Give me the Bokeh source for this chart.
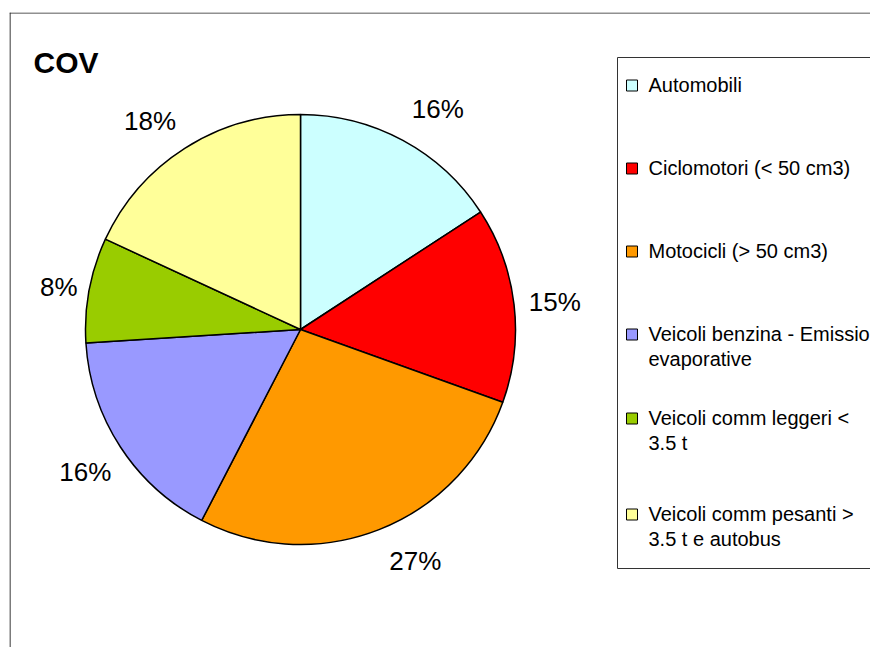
import math
from bokeh.plotting import figure
from bokeh.models import Range1d, Span, Label, ColumnDataSource
from bokeh.embed import file_html
from bokeh.resources import INLINE
from bokeh.core.properties import value

# ---------------- data ----------------
chart_title = "COV"
categories = [
    "Automobili",
    "Ciclomotori (< 50 cm3)",
    "Motocicli (> 50 cm3)",
    "Veicoli benzina - Emissioni evaporative",
    "Veicoli comm leggeri < 3.5 t",
    "Veicoli comm pesanti > 3.5 t e autobus",
]
# legend text as wrapped in the original legend
legend_text = [
    "Automobili",
    "Ciclomotori (< 50 cm3)",
    "Motocicli (> 50 cm3)",
    "Veicoli benzina - Emissioni\nevaporative",
    "Veicoli comm leggeri <\n3.5 t",
    "Veicoli comm pesanti >\n3.5 t e autobus",
]
shares = [15.8, 14.7, 27.1, 16.4, 7.9, 18.1]
colors = ["#CCFFFF", "#FF0000", "#FF9900", "#9999FF", "#99CC00", "#FFFF99"]

# ---------------- layout (pixels) ----------------
W, H = 870, 647
LEFT, TOP = 9, 12                # frame offset inside figure
FW, FH = W - LEFT, H - TOP       # frame size, 1 data unit = 1 px
OX, OY = LEFT, TOP               # page position of frame origin


def px(x):
    return x - OX


def py(y):
    return -(y - OY)


CX, CY, R = px(300), py(329), 215
LABEL_R = 257
# small screen-pixel nudges of the data labels (best-fit placement), (right, down)
label_nudge = [(15, 5), (-1, 2), (21, -8), (0, 2), (11, 5), (-12, 8)]
FONT = "Liberation Sans"

p = figure(width=W, height=H, output_backend="svg", toolbar_location=None,
           x_range=Range1d(0, FW), y_range=Range1d(-FH, 0),
           x_axis_location=None, y_axis_location=None,
           min_border_left=LEFT, min_border_top=TOP,
           min_border_right=0, min_border_bottom=0)
p.grid.visible = False
p.outline_line_color = None
p.background_fill_color = "white"
p.border_fill_color = "white"

# chart-area border (left and top visible)
p.add_layout(Span(location=0.5, dimension="height", line_color="#222222", line_width=1.2))
p.add_layout(Span(location=-0.5, dimension="width", line_color="#222222", line_width=1.2))

# ---------------- pie ----------------
total = sum(shares)
starts, ends, mids = [], [], []
cum = 0.0
for v in shares:
    a0 = math.pi / 2 - 2 * math.pi * cum / total
    a1 = math.pi / 2 - 2 * math.pi * (cum + v) / total
    starts.append(a0)
    ends.append(a1)
    mids.append((a0 + a1) / 2)
    cum += v

src = ColumnDataSource(dict(
    start=starts, end=ends, color=colors,
    lx=[CX + LABEL_R * math.cos(m) + n[0] for m, n in zip(mids, label_nudge)],
    ly=[CY + LABEL_R * math.sin(m) - n[1] for m, n in zip(mids, label_nudge)],
    pct=[f"{round(v)}%" for v in shares],
))
p.wedge(x=CX, y=CY, radius=R, start_angle="start", end_angle="end",
        direction="clock", fill_color="color", line_color="black",
        line_width=1.5, source=src)
p.text(x="lx", y="ly", text="pct", source=src, text_font=value(FONT),
       text_font_size="26px", text_align="center", text_baseline="middle",
       text_color="black")

# ---------------- title ----------------
p.add_layout(Label(x=px(33), y=py(62), text=chart_title, text_font=FONT,
                   text_font_size="30px", text_font_style="bold",
                   text_color="black", text_baseline="alphabetic"))

# ---------------- legend ----------------
p.quad(left=px(617), right=px(617) + 400, top=py(57), bottom=py(568),
       fill_color="white", line_color="#333333", line_width=1)
row_centers = [85, 168, 251, 334, 418, 514]
leg = ColumnDataSource(dict(
    sx=[px(631.5)] * len(categories),
    sy=[py(c) for c in row_centers],
    tx=[px(648)] * len(categories),
    ty=[py(c - 11.5) for c in row_centers],
    color=colors,
    label=legend_text,
))
p.rect(x="sx", y="sy", width=11, height=11, fill_color="color",
       line_color="black", line_width=1, source=leg)
p.text(x="tx", y="ty", text="label", source=leg, text_font=value(FONT),
       text_font_size="20px", text_align="left", text_baseline="top",
       text_color="black", text_line_height=1.15)

open("out.html", "w").write(file_html(p, INLINE))
